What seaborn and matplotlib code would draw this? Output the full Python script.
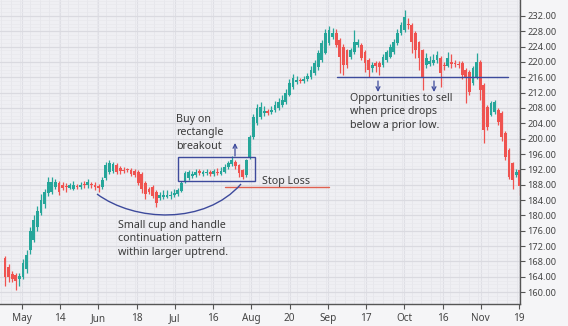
import numpy as np
import pandas as pd
import matplotlib
matplotlib.use("Agg")
import matplotlib.pyplot as plt
from matplotlib.patches import Rectangle, PathPatch
from matplotlib.path import Path
import seaborn as sns

# ---- data (OHLC per bar) ----
opens = [168.8, 166.5, 164.6, 164.4, 163.4, 164.0, 166.0, 171.0, 173.6, 177.0,
         180.6, 183.0, 185.8, 186.0, 187.5, 188.4, 188.0, 187.6, 187.2, 187.0,
         187.6, 187.3, 188.2, 187.9, 188.2, 188.0, 187.6, 187.3, 189.7, 191.3,
         191.5, 193.0, 192.3, 191.9, 191.9, 191.8, 191.5, 191.3, 190.8, 188.4,
         186.8, 187.5, 186.0, 184.5, 184.8, 184.9, 185.0, 185.2, 185.5, 186.3,
         188.7, 189.7, 190.2, 190.6, 191.5, 190.8, 191.0, 191.3, 190.9, 191.2,
         190.8, 191.4, 192.6, 193.3, 193.9, 193.0, 191.8, 190.5, 195.2, 200.4,
         204.0, 205.6, 206.7, 207.2, 207.0, 207.5, 208.0, 208.8, 209.5, 211.4,
         213.5, 214.8, 215.4, 215.0, 215.5, 216.0, 217.0, 218.7, 220.5, 222.3,
         225.0, 226.5, 227.6, 225.7, 224.0, 223.0, 221.3, 222.6, 224.5, 224.4,
         222.6, 220.5, 218.5, 219.7, 219.7, 219.2, 220.5, 221.3, 222.6, 225.0,
         227.6, 228.3, 229.8, 229.6, 227.6, 225.2, 223.0, 219.2, 219.6, 219.8,
         220.5, 221.0, 219.3, 219.0, 219.9, 219.8, 219.6, 219.7, 217.9, 217.4,
         214.5, 216.1, 220.0, 214.0, 208.3, 206.2, 207.0, 207.5, 206.7, 201.5,
         197.0, 193.6, 190.6, 191.8]
highs = [169.5, 167.2, 165.5, 165.0, 165.0, 168.5, 171.0, 177.0, 180.0, 182.5,
         185.5, 187.0, 190.0, 190.0, 189.5, 189.0, 188.8, 188.4, 188.5, 189.0,
         188.3, 188.8, 189.0, 189.5, 188.7, 188.6, 188.2, 190.0, 193.8, 194.5,
         194.0, 193.6, 192.8, 192.5, 192.3, 192.4, 192.0, 191.8, 191.2, 189.0,
         187.5, 188.0, 186.5, 186.0, 186.5, 186.5, 186.3, 186.8, 187.2, 189.0,
         191.6, 191.8, 191.6, 192.0, 192.0, 191.8, 192.0, 191.8, 192.2, 192.3,
         192.5, 193.3, 194.3, 195.5, 194.5, 193.4, 192.2, 194.8, 201.0, 206.5,
         209.0, 209.5, 208.5, 207.8, 208.5, 209.8, 210.5, 211.5, 213.0, 215.5,
         216.8, 216.3, 215.8, 216.3, 217.0, 219.0, 220.5, 223.0, 225.8, 228.5,
         229.5, 228.8, 228.5, 226.3, 224.6, 223.5, 223.6, 228.3, 226.0, 225.0,
         223.0, 221.0, 220.0, 220.3, 220.3, 222.0, 223.0, 224.8, 226.0, 228.5,
         230.5, 233.6, 231.5, 230.2, 228.2, 225.6, 223.5, 222.3, 221.5, 222.0,
         222.8, 221.5, 220.0, 222.5, 222.0, 220.5, 220.3, 220.2, 218.4, 218.0,
         219.0, 222.3, 220.5, 214.5, 208.8, 209.8, 210.2, 208.0, 207.2, 202.0,
         197.6, 194.0, 192.0, 192.2]
lows = [161.5, 162.5, 162.5, 160.5, 161.5, 163.5, 165.0, 170.0, 173.0, 176.0,
        180.0, 182.0, 185.0, 185.5, 187.0, 185.3, 186.5, 186.2, 186.8, 186.5,
        186.8, 186.8, 187.2, 187.2, 187.2, 186.5, 186.2, 187.0, 189.3, 190.8,
        191.0, 190.7, 190.8, 191.0, 191.2, 190.3, 190.0, 188.0, 185.8, 184.3,
        185.5, 184.5, 182.2, 184.0, 184.2, 184.5, 184.3, 184.8, 185.0, 186.0,
        188.4, 189.2, 189.7, 190.0, 190.5, 190.3, 190.4, 190.2, 190.3, 190.6,
        190.5, 191.0, 192.2, 193.0, 192.2, 190.0, 189.5, 190.0, 194.8, 200.0,
        203.5, 205.0, 206.0, 206.3, 206.5, 207.0, 207.6, 208.3, 209.0, 211.0,
        213.0, 214.3, 214.5, 214.6, 215.0, 215.6, 216.6, 218.0, 220.0, 222.0,
        224.5, 226.0, 223.8, 217.0, 216.5, 218.5, 220.8, 222.0, 223.8, 220.5,
        217.5, 216.0, 217.5, 217.5, 216.5, 218.6, 220.0, 221.0, 222.0, 224.5,
        227.0, 227.8, 228.5, 222.3, 221.0, 218.0, 212.7, 218.5, 219.0, 219.3,
        219.8, 213.5, 217.8, 218.7, 218.5, 218.8, 218.5, 215.5, 209.3, 211.5,
        214.0, 215.5, 210.0, 198.9, 202.3, 205.8, 206.5, 203.5, 199.5, 194.5,
        189.5, 187.0, 190.0, 185.3]
closes = [164.0, 164.0, 163.5, 162.8, 164.2, 167.5, 169.6, 176.0, 178.8, 181.0,
          184.0, 186.0, 188.7, 188.8, 188.6, 186.2, 187.2, 187.3, 187.8, 188.0,
          187.4, 188.0, 187.8, 188.6, 187.9, 187.4, 187.1, 189.3, 193.0, 193.6,
          193.4, 191.2, 191.5, 191.6, 191.7, 190.8, 190.4, 188.4, 186.8, 185.5,
          186.0, 185.0, 183.2, 185.3, 185.2, 185.4, 185.3, 185.8, 186.6, 188.4,
          191.0, 191.3, 190.8, 191.3, 191.0, 191.2, 191.3, 190.9, 191.5, 191.1,
          191.6, 192.7, 193.6, 194.4, 192.8, 191.0, 190.0, 194.4, 200.4, 205.6,
          208.0, 208.3, 207.3, 206.8, 207.6, 208.8, 209.5, 210.0, 212.0, 214.5,
          215.8, 215.4, 215.0, 215.6, 216.3, 218.0, 219.7, 222.3, 225.0, 227.6,
          228.3, 227.5, 224.4, 221.3, 219.2, 219.2, 223.0, 225.2, 225.3, 221.0,
          219.7, 217.9, 219.3, 219.0, 218.7, 221.3, 222.5, 224.0, 225.2, 227.6,
          229.6, 231.7, 229.6, 225.2, 223.1, 221.0, 215.8, 221.0, 220.3, 220.5,
          221.8, 217.1, 219.0, 221.0, 219.6, 219.5, 219.2, 216.6, 215.8, 212.2,
          218.4, 220.0, 212.7, 202.3, 203.0, 209.3, 209.6, 204.3, 200.4, 195.2,
          190.0, 189.2, 191.2, 187.6]

x_tick_labels = ["May", "14", "Jun", "18", "Jul", "16", "Aug", "20",
                 "Sep", "17", "Oct", "16", "Nov", "19"]
y_tick_values = list(range(160, 233, 4))

stop_loss = 187.3
support_low = 216.0

df = pd.DataFrame({"open": opens, "high": highs, "low": lows, "close": closes})
df["bar"] = np.arange(len(df))
df["up"] = df["close"] >= df["open"]

# ---- style ----
sns.set_theme(style="white")
plt.rcParams["font.family"] = ["Noto Sans", "DejaVu Sans"]

GREEN = "#26a69a"
RED = "#ef5350"
NAVY = "#3d4a9c"
TXT = "#3a3a3a"

fig = plt.figure(figsize=(5.68, 3.26), dpi=100, facecolor="#f5f5f7")
ax = fig.add_axes([0.0, 22 / 326, 520 / 568, 304 / 326])
ax.set_facecolor("#efeff3")

colors = np.where(df["up"], GREEN, RED)

# wicks
ax.vlines(df["bar"], df["low"], df["high"], colors=colors, linewidth=0.9, zorder=3)
# bodies
body_bottom = np.minimum(df["open"], df["close"])
body_h = np.maximum(np.abs(df["close"] - df["open"]), 0.3)
ax.bar(df["bar"], body_h, bottom=body_bottom, width=0.8, color=colors,
       linewidth=0, zorder=4)

# axes limits
px = 3.6
xmin = -5 / px
ax.set_xlim(xmin, xmin + 520 / px)
yscale = 276 / 72
ax.set_ylim(160 - 12 / yscale, 232 + 16 / yscale)

# grid
ax.set_yticks(y_tick_values)
ax.set_yticks(np.arange(157, 237, 1), minor=True)
ax.yaxis.grid(True, which="major", color="#dadae0", linewidth=0.9, zorder=0)
ax.yaxis.grid(True, which="minor", color="#e8e8ed", linewidth=0.5, zorder=0)
xt = np.linspace(4.7, 142.8, len(x_tick_labels))
ax.set_xticks(xt)
ax.set_xticks(np.arange(-1, 144, 2.65), minor=True)
ax.xaxis.grid(True, which="minor", color="#e6e6eb", linewidth=0.6, zorder=0)
ax.xaxis.grid(True, which="major", color="#dfdfe5", linewidth=0.8, zorder=0)
ax.set_axisbelow(True)

ax.set_xticklabels(x_tick_labels, fontsize=7.2, color="#444444")
ax.yaxis.tick_right()
ax.set_yticklabels([f"{v:.2f}" for v in y_tick_values], fontsize=6.6, color="#444444")
ax.tick_params(axis="y", which="major", direction="out", length=3.5, width=0.8,
               color="#555555", pad=2, right=True, left=False)
ax.tick_params(axis="x", which="major", direction="out", length=3.5, width=0.8,
               color="#555555", pad=3, bottom=True)
ax.tick_params(which="minor", length=0)

for s in ["left", "top"]:
    ax.spines[s].set_visible(False)
for s in ["right", "bottom"]:
    ax.spines[s].set_color("#555555")
    ax.spines[s].set_linewidth(1.0)


def d(xp, yp):
    """pixel position -> data position"""
    return (xp - 5) / px, 232 - (yp - 16) / yscale


# rectangle breakout box
x0, y0 = d(178, 181)
x1, y1 = d(255, 157)
ax.add_patch(Rectangle((x0, y0), x1 - x0, y1 - y0, fill=False, edgecolor=NAVY,
                       linewidth=1.0, zorder=5))
# up arrow
ax.annotate("", xy=d(235, 143), xytext=d(235, 156),
            arrowprops=dict(arrowstyle="->", color=NAVY, lw=0.9,
                            shrinkA=0, shrinkB=0, mutation_scale=7), zorder=6)
tx, ty = d(176, 114)
ax.text(tx, ty, "Buy on\nrectangle\nbreakout", fontsize=7.7, color=TXT,
        ha="left", va="top", linespacing=1.3, zorder=6)

# stop loss
sx0, _ = d(225, 0)
sx1, _ = d(329, 0)
ax.plot([sx0, sx1], [stop_loss, stop_loss], color="#e0604f", linewidth=1.0, zorder=5)
lx, ly = d(262, 188)
ax.text(lx, ly + 0.3, "Stop Loss", fontsize=7.7, color=TXT, ha="left",
        va="bottom", zorder=6)

# cup curve
pts = [d(97, 194), d(135, 222), d(205, 225), d(241, 184)]
cup = Path(pts, [Path.MOVETO, Path.CURVE4, Path.CURVE4, Path.CURVE4])
ax.add_patch(PathPatch(cup, fill=False, edgecolor=NAVY, linewidth=1.0, zorder=5))
cx, cy = d(118, 220)
ax.text(cx, cy, "Small cup and handle\ncontinuation pattern\nwithin larger uptrend.",
        fontsize=7.7, color=TXT, ha="left", va="top", linespacing=1.3, zorder=6)

# support line and sell arrows
hx0, _ = d(337, 0)
hx1, _ = d(508, 0)
ax.plot([hx0, hx1], [support_low, support_low], color=NAVY, linewidth=1.0, zorder=5)
for axp in (378, 434):
    ax.annotate("", xy=d(axp, 92), xytext=d(axp, 81),
                arrowprops=dict(arrowstyle="->", color=NAVY, lw=0.9,
                                shrinkA=0, shrinkB=0, mutation_scale=7), zorder=6)
ox, oy = d(350, 93)
ax.text(ox, oy, "Opportunities to sell\nwhen price drops\nbelow a prior low.",
        fontsize=7.7, color=TXT, ha="left", va="top", linespacing=1.3, zorder=6)

fig.savefig("out.png", dpi=100, facecolor=fig.get_facecolor())
